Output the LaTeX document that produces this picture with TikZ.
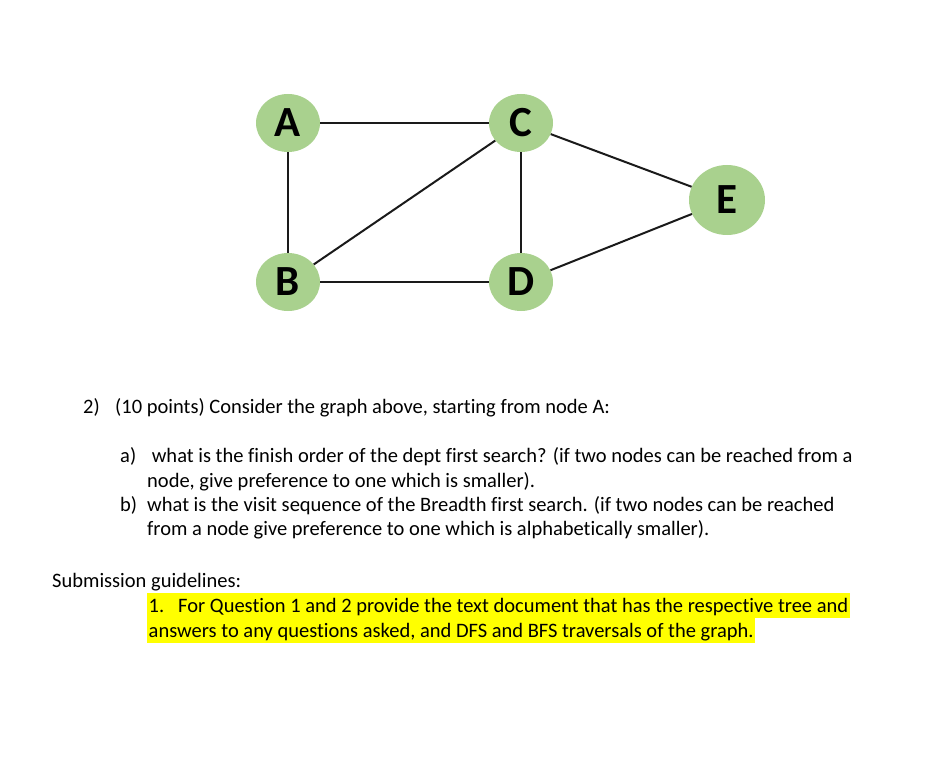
\documentclass[tikz,border=0pt]{standalone}
\usepackage{fontspec}
\setmainfont[Ligatures=NoCommon]{Carlito}
\usepackage{tikz}
\usetikzlibrary{shapes.geometric, positioning}
\definecolor{nodegreen}{HTML}{A9D18E}
\definecolor{edgeline}{HTML}{1A1A1A}
\definecolor{marker}{HTML}{FFFF00}

\begin{document}
\begin{tikzpicture}[
    x=1pt, y=-1pt,
    vertex/.style={ellipse, fill=nodegreen, minimum width=64pt, minimum height=58pt, inner sep=0pt, font=\fontsize{43}{43}\selectfont\bfseries, text=black},
    bigvertex/.style={vertex, minimum width=76pt, minimum height=70pt},
    edge/.style={draw=edgeline, line width=2pt},
    textline/.style={anchor=base west, inner sep=0pt, font=\fontsize{20.5}{24.5}\selectfont, text=black},
    hiline/.style={textline, fill=marker, text height=19pt, text depth=6pt, inner xsep=1.5pt},
]
    \useasboundingbox (0,0) rectangle (935,773);

    % graph
    \node[vertex] (A) at (288,123) {A};
    \node[vertex] (C) at (521,123) {C};
    \node[bigvertex] (E) at (727,200) {E};
    \node[vertex] (B) at (288,282) {B};
    \node[vertex] (D) at (521,282) {D};

    \draw[edge] (A) -- (C);
    \draw[edge] (A) -- (B);
    \draw[edge] (B) -- (C);
    \draw[edge] (C) -- (D);
    \draw[edge] (B) -- (D);
    \draw[edge] (C) -- (E);
    \draw[edge] (D) -- (E);

    % question
    \node[textline] (q2) at (83,413) {2)};
    \node[textline] (q2t) at (115,413) {(10 points) Consider the graph above, starting from node A:};
    \node[textline] (qa) at (120,462) {a)};
    \node[textline] (qat) at (147,462) {\ what is the finish order of the dept first search? (if two nodes can be reached from a};
    \node[textline] (qat2) at (147,487) {node, give preference to one which is smaller).};
    \node[textline] (qb) at (120,511) {b)};
    \node[textline] (qbt) at (147,511) {what is the visit sequence of the Breadth first search. (if two nodes can be reached};
    \node[textline] (qbt2) at (147,535) {from a node give preference to one which is alphabetically smaller).};

    % guidelines
    \node[textline] (sub) at (52,587) {Submission guidelines:};
    \node[hiline] (g1) at (147,612) {1.\hspace{14pt}For Question 1 and 2 provide the text document that has the respective tree and};
    \node[hiline] (g2) at (147,637) {answers to any questions asked, and DFS and BFS traversals of the graph.};
\end{tikzpicture}
\end{document}
